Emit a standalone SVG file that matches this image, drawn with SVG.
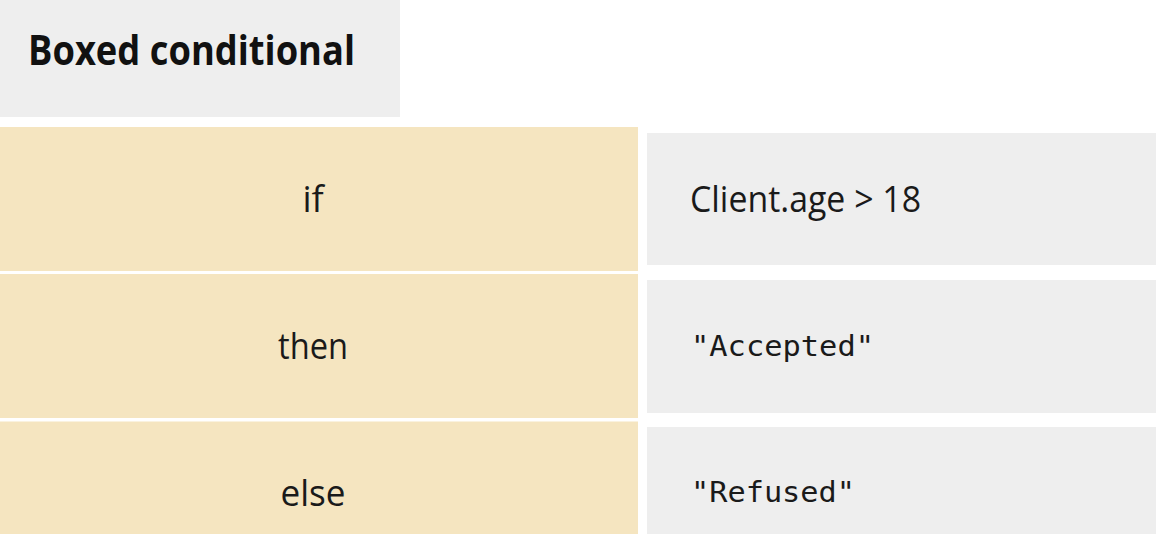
<svg xmlns="http://www.w3.org/2000/svg" width="1156" height="534" viewBox="0 0 1156 534">
<style>
.key{fill:#f5e5c0}
.val{fill:#eeeeee}
.kt{font-family:"Open Sans","Noto Sans",sans-serif;font-size:36px;fill:#1a1a1a;text-anchor:middle}
.vt{font-family:"Open Sans","Noto Sans",sans-serif;font-size:36px;fill:#1a1a1a}
.mt{font-family:"DejaVu Sans Mono","Liberation Mono",monospace;font-size:29px;fill:#1a1a1a}
.tt{font-family:"Open Sans","Noto Sans",sans-serif;font-size:42px;font-weight:bold;fill:#111}
</style>
<rect width="1156" height="534" fill="#ffffff"/>
<g id="title">
<rect class="val" x="0" y="0" width="400" height="117"/>
<text class="tt" x="28" y="65" textLength="327" lengthAdjust="spacingAndGlyphs">Boxed conditional</text>
</g>
<g id="if-key">
<rect class="key" x="0" y="127" width="638" height="144"/>
<text class="kt" x="313" y="212">if</text>
</g>
<g id="if-value">
<rect class="val" x="647" y="133" width="509" height="132"/>
<text class="vt" x="690" y="212" textLength="231" lengthAdjust="spacingAndGlyphs">Client.age &gt; 18</text>
</g>
<g id="then-key">
<rect class="key" x="0" y="274" width="638" height="144"/>
<text class="kt" x="313" y="359" textLength="70" lengthAdjust="spacingAndGlyphs">then</text>
</g>
<g id="then-value">
<rect class="val" x="647" y="280" width="509" height="133"/>
<text class="mt" x="691" y="356" textLength="183" lengthAdjust="spacingAndGlyphs">"Accepted"</text>
</g>
<g id="else-key">
<rect class="key" x="0" y="421.5" width="638" height="144"/>
<text class="kt" x="313" y="506" textLength="65" lengthAdjust="spacingAndGlyphs">else</text>
</g>
<g id="else-value">
<rect class="val" x="647" y="427" width="509" height="133"/>
<text class="mt" x="691" y="502" textLength="164" lengthAdjust="spacingAndGlyphs">"Refused"</text>
</g>
<g id="connectors"/>
</svg>
